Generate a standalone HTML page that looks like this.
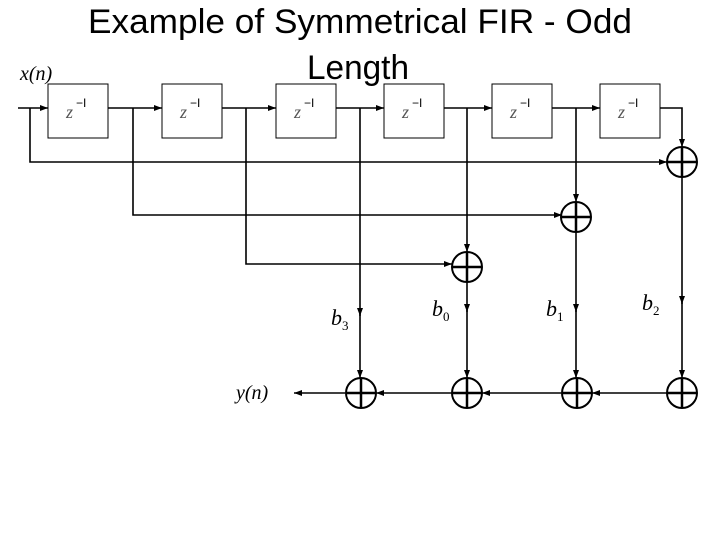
<!DOCTYPE html>
<html><head><meta charset="utf-8"><style>body{margin:0;background:#fff}svg{display:block}</style></head>
<body>
<svg width="720" height="540" viewBox="0 0 720 540" xmlns="http://www.w3.org/2000/svg">
<defs><marker id="a" markerWidth="8" markerHeight="6" refX="8" refY="3" orient="auto" markerUnits="userSpaceOnUse"><path d="M0,0 L8,3 L0,6z" fill="#000"/></marker></defs>
<text x="360" y="33" font-family="Liberation Sans, sans-serif" font-size="34" text-anchor="middle" textLength="544" lengthAdjust="spacingAndGlyphs">Example of Symmetrical FIR - Odd</text>
<text x="358" y="79" font-family="Liberation Sans, sans-serif" font-size="34" text-anchor="middle" textLength="102" lengthAdjust="spacingAndGlyphs">Length</text>
<text x="20" y="80" font-family="Liberation Serif, serif" font-style="italic" font-size="20">x(n)</text>
<text x="236" y="399" font-family="Liberation Serif, serif" font-style="italic" font-size="20">y(n)</text>
<g fill="#fff" stroke="#000" stroke-width="1">
<rect x="48" y="84" width="60" height="54"/><rect x="162" y="84" width="60" height="54"/><rect x="276" y="84" width="60" height="54"/>
<rect x="384" y="84" width="60" height="54"/><rect x="492" y="84" width="60" height="54"/><rect x="600" y="84" width="60" height="54"/>
</g>
<g font-family="Liberation Serif, serif" font-size="18" fill="#555"><g font-style="italic">
<text x="66" y="118">z</text><text x="180" y="118">z</text><text x="294" y="118">z</text><text x="402" y="118">z</text><text x="510" y="118">z</text><text x="618" y="118">z</text></g>
<g font-family="Liberation Sans, sans-serif" font-size="12" fill="#000"><text x="76" y="107">−I</text><text x="190" y="107">−I</text><text x="304" y="107">−I</text><text x="412" y="107">−I</text><text x="520" y="107">−I</text><text x="628" y="107">−I</text></g></g>
<g stroke="#000" stroke-width="1.6" fill="none">
<line x1="18" y1="108" x2="48" y2="108" marker-end="url(#a)"/>
<line x1="108" y1="108" x2="162" y2="108" marker-end="url(#a)"/>
<line x1="222" y1="108" x2="276" y2="108" marker-end="url(#a)"/>
<line x1="336" y1="108" x2="384" y2="108" marker-end="url(#a)"/>
<line x1="444" y1="108" x2="492" y2="108" marker-end="url(#a)"/>
<line x1="552" y1="108" x2="600" y2="108" marker-end="url(#a)"/>
<polyline points="660,108 682,108 682,147" marker-end="url(#a)"/>
<polyline points="30,108 30,162 667,162" marker-end="url(#a)"/>
<polyline points="133,108 133,215 562,215" marker-end="url(#a)"/>
<polyline points="246,108 246,264 452,264" marker-end="url(#a)"/>
<line x1="467" y1="108" x2="467" y2="252" marker-end="url(#a)"/>
<line x1="576" y1="108" x2="576" y2="202" marker-end="url(#a)"/>
<line x1="360" y1="108" x2="360" y2="316" marker-end="url(#a)"/><line x1="360" y1="310" x2="360" y2="378" marker-end="url(#a)"/>
<line x1="467" y1="282" x2="467" y2="312" marker-end="url(#a)"/><line x1="467" y1="310" x2="467" y2="378" marker-end="url(#a)"/>
<line x1="576" y1="230" x2="576" y2="312" marker-end="url(#a)"/><line x1="576" y1="310" x2="576" y2="378" marker-end="url(#a)"/>
<line x1="682" y1="177" x2="682" y2="304" marker-end="url(#a)"/><line x1="682" y1="300" x2="682" y2="378" marker-end="url(#a)"/>
<line x1="667" y1="393" x2="592" y2="393" marker-end="url(#a)"/>
<line x1="561" y1="393" x2="482" y2="393" marker-end="url(#a)"/>
<line x1="452" y1="393" x2="376" y2="393" marker-end="url(#a)"/>
<line x1="345" y1="393" x2="294" y2="393" marker-end="url(#a)"/>
</g>
<g stroke="#000" fill="#fff" stroke-width="2">
<circle cx="682" cy="162" r="15"/><circle cx="576" cy="217" r="15"/><circle cx="467" cy="267" r="15"/>
<circle cx="361" cy="393" r="15"/><circle cx="467" cy="393" r="15"/><circle cx="577" cy="393" r="15"/><circle cx="682" cy="393" r="15"/>
</g>
<g stroke="#000" stroke-width="2.5">
<path d="M668,162h28M682,148v28"/><path d="M562,217h28M576,203v28"/><path d="M453,267h28M467,253v28"/>
<path d="M347,393h28M361,379v28"/><path d="M453,393h28M467,379v28"/><path d="M563,393h28M577,379v28"/><path d="M668,393h28M682,379v28"/>
</g>
<g font-family="Liberation Serif, serif" font-size="22" font-style="italic">
<text x="331" y="325">b</text><text x="432" y="316">b</text><text x="546" y="316">b</text><text x="642" y="310">b</text></g>
<g font-family="Liberation Serif, serif" font-size="13">
<text x="342" y="330">3</text><text x="443" y="321">0</text><text x="557" y="321">1</text><text x="653" y="315">2</text></g>
</svg>
</body></html>
